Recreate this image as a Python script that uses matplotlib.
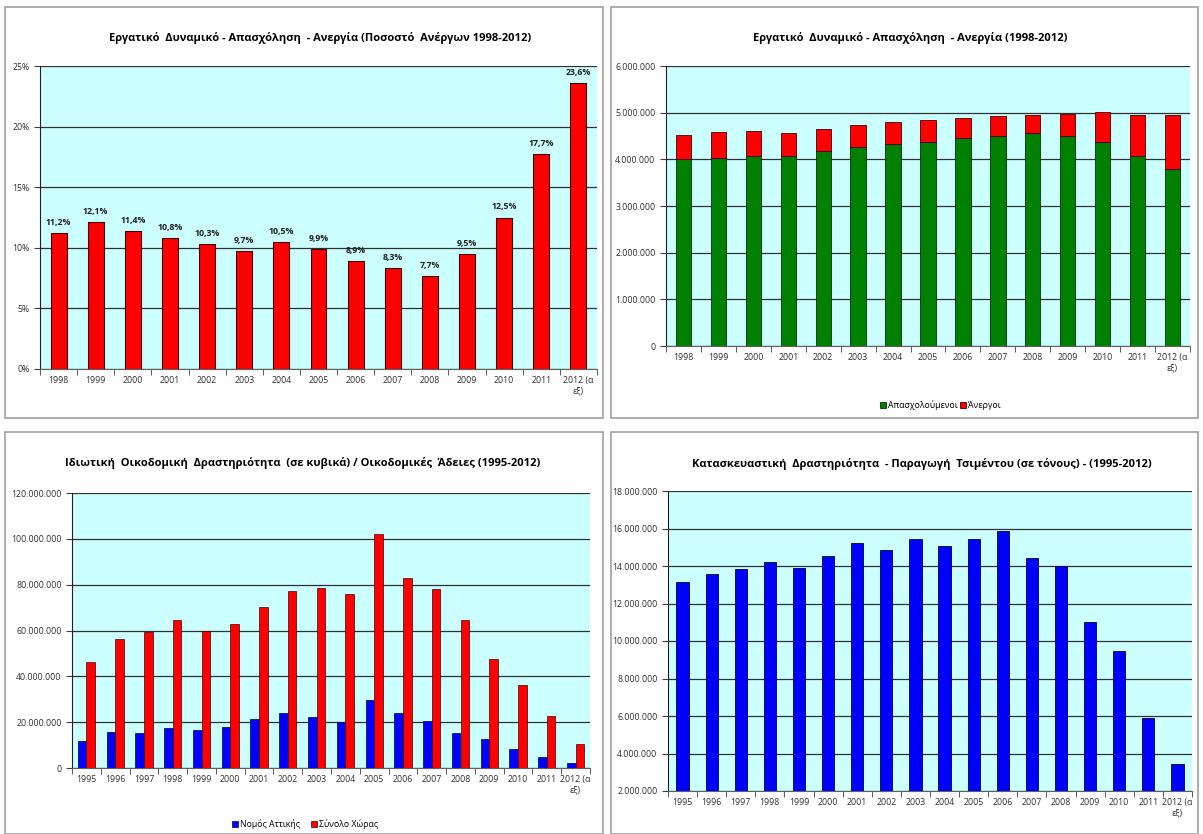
import matplotlib
matplotlib.use("Agg")
import matplotlib.pyplot as plt
from matplotlib.patches import Rectangle
from matplotlib.ticker import FuncFormatter, MultipleLocator
import numpy as np

plt.rcParams["font.family"] = ["Open Sans", "DejaVu Sans"]

W, H = 1203, 834

# ---- data ----
years_98 = ["1998", "1999", "2000", "2001", "2002", "2003", "2004", "2005",
            "2006", "2007", "2008", "2009", "2010", "2011", "2012 (α\nεξ)"]
years_95 = ["1995", "1996", "1997"] + years_98

unemp_rate = [11.2, 12.1, 11.4, 10.8, 10.3, 9.7, 10.5, 9.9, 8.9, 8.3, 7.7, 9.5, 12.5, 17.7, 23.6]

employed = [4010000, 4030000, 4080000, 4080000, 4170000, 4270000, 4320000, 4370000,
            4450000, 4510000, 4560000, 4510000, 4370000, 4080000, 3790000]
unemployed = [510000, 560000, 520000, 490000, 480000, 470000, 490000, 480000,
              440000, 410000, 380000, 470000, 640000, 880000, 1170000]

attiki = [11.9, 15.7, 15.1, 17.5, 16.5, 17.8, 21.3, 23.8, 22.2, 19.9, 29.6, 23.8,
          20.7, 15.4, 12.5, 8.1, 4.8, 2.0]
country = [46.4, 56.1, 59.4, 64.8, 59.7, 62.9, 70.3, 77.1, 78.6, 75.8, 102.2, 82.8,
           78.0, 64.5, 47.4, 36.4, 22.6, 10.3]

cement = [13.13, 13.59, 13.86, 14.2, 13.91, 14.55, 15.21, 14.85, 15.42, 15.05, 15.42,
          15.88, 14.43, 14.0, 11.0, 9.45, 5.89, 3.44]

BG = "#CCFFFF"
RED = "#FF0000"
GREEN = "#008000"
BLUE = "#0000FF"
TITLE_SIZE = 8


def px_axes(fig, left, top, right, bottom):
    return fig.add_axes([left / W, 1 - bottom / H, (right - left) / W, (bottom - top) / H])


def dots(v, pos):
    return f"{int(round(v)):,}".replace(",", ".")


def style(ax, n):
    ax.set_facecolor(BG)
    ax.set_xlim(-0.5, n - 0.5)
    ax.set_xticks(np.arange(n))
    ax.set_xticks(np.arange(n + 1) - 0.5, minor=True)
    ax.tick_params(axis="x", which="major", length=0, labelsize=6.3, pad=5)
    ax.tick_params(axis="x", which="minor", length=4, direction="out", color="#404040")
    ax.tick_params(axis="y", length=4, direction="out", labelsize=6.3, color="#404040")
    for s in ["top", "right"]:
        ax.spines[s].set_visible(False)
    ax.spines["left"].set_color("#202020")
    ax.spines["bottom"].set_color("#606060")
    ax.grid(axis="y", color="#303030", linewidth=0.9)
    ax.set_axisbelow(True)
    for lab in ax.get_xticklabels() + ax.get_yticklabels():
        lab.set_color("#303030")


fig = plt.figure(figsize=(W / 100, H / 100), dpi=100)

# panel borders
for (l, t, r, b) in [(5, 7, 603, 418), (611, 7, 1198, 418), (5, 432, 603, 834), (611, 432, 1198, 834)]:
    fig.patches.append(Rectangle((l / W, 1 - b / H), (r - l) / W, (b - t) / H,
                                 transform=fig.transFigure, fill=False,
                                 edgecolor="#A0A0A0", linewidth=1.2))

# ---- panel 1: unemployment rate ----
ax1 = px_axes(fig, 40, 66, 597, 369)
x = np.arange(len(years_98))
ax1.bar(x, unemp_rate, width=0.43, color=RED, edgecolor="#400000", linewidth=0.8)
for xi, v in zip(x, unemp_rate):
    ax1.text(xi, v + 0.5, f"{v:.1f}%".replace(".", ","), ha="center", va="bottom",
             fontsize=6.3, fontweight="bold", color="#202020")
ax1.set_ylim(0, 25)
ax1.yaxis.set_major_locator(MultipleLocator(5))
ax1.yaxis.set_major_formatter(FuncFormatter(lambda v, p: f"{int(v)}%"))
ax1.set_xticklabels(years_98)
style(ax1, len(years_98))
fig.text(320 / W, 1 - 38 / H, "Εργατικό  Δυναμικό - Απασχόληση  - Ανεργία (Ποσοστό  Ανέργων 1998-2012)",
         ha="center", va="center", fontsize=TITLE_SIZE, fontweight="bold")

# ---- panel 2: employed / unemployed stacked ----
ax2 = px_axes(fig, 666, 66, 1190, 346)
ax2.bar(x, employed, width=0.44, color=GREEN, edgecolor="#003000", linewidth=0.6, label="Απασχολούμενοι")
ax2.bar(x, unemployed, width=0.44, bottom=employed, color=RED, edgecolor="#400000", linewidth=0.6,
        label="Άνεργοι")
ax2.set_ylim(0, 6000000)
ax2.yaxis.set_major_locator(MultipleLocator(1000000))
ax2.yaxis.set_major_formatter(FuncFormatter(dots))
ax2.set_xticklabels(years_98)
style(ax2, len(years_98))
ax2.legend(loc="center", bbox_to_anchor=(940 / W, 1 - 405 / H), bbox_transform=fig.transFigure,
           ncol=2, frameon=False, fontsize=6.3, handlelength=0.7, handleheight=0.7,
           handletextpad=0.2, columnspacing=0.3)
fig.text(910 / W, 1 - 38 / H, "Εργατικό  Δυναμικό - Απασχόληση  - Ανεργία (1998-2012)",
         ha="center", va="center", fontsize=TITLE_SIZE, fontweight="bold")

# ---- panel 3: building permits ----
ax3 = px_axes(fig, 72, 493, 590, 768)
x3 = np.arange(len(years_95))
bw = 0.3
ax3.bar(x3 - bw / 2, np.array(attiki) * 1e6, width=bw, color=BLUE, edgecolor="#000040", linewidth=0.5,
        label="Νομός Αττικής")
ax3.bar(x3 + bw / 2, np.array(country) * 1e6, width=bw, color=RED, edgecolor="#400000", linewidth=0.5,
        label="Σύνολο Χώρας")
ax3.set_ylim(0, 120000000)
ax3.yaxis.set_major_locator(MultipleLocator(20000000))
ax3.yaxis.set_major_formatter(FuncFormatter(dots))
ax3.set_xticklabels(years_95)
style(ax3, len(years_95))
ax3.legend(loc="center", bbox_to_anchor=(305 / W, 1 - 824 / H), bbox_transform=fig.transFigure,
           ncol=2, frameon=False, fontsize=6.3, handlelength=0.7, handleheight=0.7,
           handletextpad=0.2, columnspacing=1.2)
fig.text(303 / W, 1 - 463 / H, "Ιδιωτική  Οικοδομική  Δραστηριότητα  (σε κυβικά) / Οικοδομικές  Άδειες (1995-2012)",
         ha="center", va="center", fontsize=TITLE_SIZE, fontweight="bold")

# ---- panel 4: cement production ----
ax4 = px_axes(fig, 668, 491, 1192, 791)
ax4.bar(x3, np.array(cement) * 1e6, width=0.42, color=BLUE, edgecolor="#000040", linewidth=0.6)
ax4.set_ylim(2000000, 18000000)
ax4.yaxis.set_major_locator(MultipleLocator(2000000))
ax4.yaxis.set_major_formatter(FuncFormatter(dots))
ax4.set_xticklabels(years_95)
style(ax4, len(years_95))
fig.text(922 / W, 1 - 464 / H, "Κατασκευαστική  Δραστηριότητα  - Παραγωγή  Τσιμέντου (σε τόνους) - (1995-2012)",
         ha="center", va="center", fontsize=TITLE_SIZE, fontweight="bold")

fig.savefig("out.png", dpi=100, facecolor="white")
